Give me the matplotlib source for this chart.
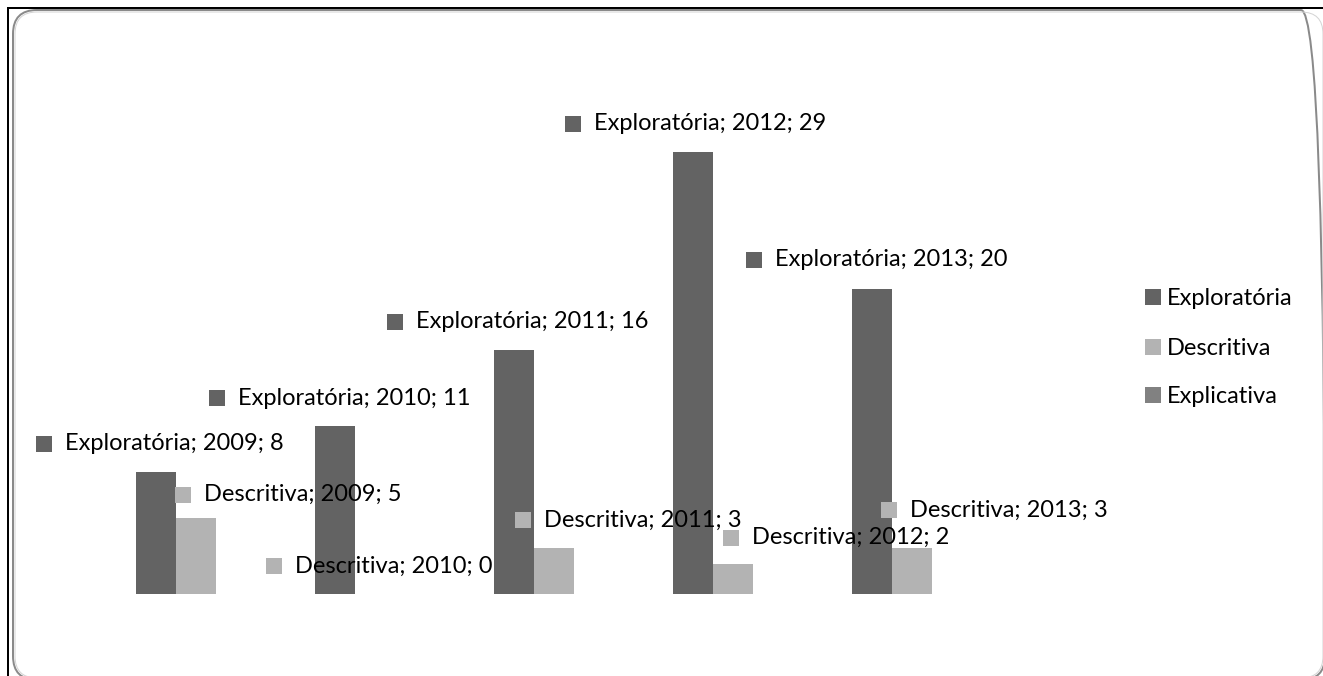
import matplotlib
matplotlib.use('Agg')
import matplotlib.pyplot as plt
import numpy as np
from matplotlib.patches import FancyBboxPatch, Rectangle
from matplotlib.lines import Line2D
from matplotlib.transforms import IdentityTransform
from matplotlib.offsetbox import AnnotationBbox, HPacker, TextArea, DrawingArea

years = ['2009', '2010', '2011', '2012', '2013']
series = ['Exploratória', 'Descritiva', 'Explicativa']
exploratoria = [8, 11, 16, 29, 20]
descritiva = [5, 0, 3, 2, 3]
explicativa = [0, 0, 0, 0, 0]

colors = ['#636363', '#b3b3b3', '#818181']

# label offsets in px (label centre relative to bar top), they were dragged by hand in the original
exp_offsets = [(4, 28), (5, 28), (4, 28), (3, 28), (5, 29)]
desc_offsets = [(92, 23), (4, 28), (74, 28), (103, 26), (82, 38)]

W, H = 1323, 676
DPI = 100
PT = 72 / DPI
FS = 17

plt.rcParams['font.family'] = ['Lato', 'DejaVu Sans']

fig = plt.figure(figsize=(W / DPI, H / DPI), dpi=DPI)

# frame: black lines left/top and the rounded grey chart border
fig.add_artist(Line2D([8 / W, 8 / W], [0, 1 - 8 / H], color='black', lw=2 * PT))
fig.add_artist(Line2D([8 / W, 1], [1 - 8 / H, 1 - 8 / H], color='black', lw=2 * PT))
fig.add_artist(FancyBboxPatch((13, -4), 1312, 670, boxstyle='round,pad=0,rounding_size=24',
                              transform=IdentityTransform(), fc='none', ec='#8a8a8a', lw=2 * PT))
fig.add_artist(FancyBboxPatch((15, -2), 1308, 666, boxstyle='round,pad=0,rounding_size=22',
                              transform=IdentityTransform(), fc='none', ec='#d4d4d4', lw=1 * PT))

ax = fig.add_axes([106.5 / W, (H - 594) / H, 895 / W, 35 * 15.25 / H])
x = np.arange(len(years))
w = 40 / 179
values = [exploratoria, descritiva, explicativa]
bars = []
for i, vals in enumerate(values):
    bars.append(ax.bar(x + (i - 1) * w, vals, w, color=colors[i], linewidth=0))
ax.set_xlim(-0.5, len(years) - 0.5)
ax.set_ylim(0, 35)
ax.axis('off')


def add_label(bar, text, color, off):
    sq = 16 * PT
    da = DrawingArea(sq, sq, 0, 0)
    da.add_artist(Rectangle((0, 0), sq, sq, fc=color, ec='none'))
    ta = TextArea(text, textprops=dict(fontsize=FS, color='black'))
    box = HPacker(children=[da, ta], align='center', pad=0, sep=13 * PT)
    xy = (bar.get_x() + bar.get_width() / 2, bar.get_height())
    ab = AnnotationBbox(box, xy, xybox=(off[0] * PT, off[1] * PT), xycoords='data',
                        boxcoords='offset points', box_alignment=(0.5, 0.5),
                        frameon=False, pad=0, annotation_clip=False)
    ax.add_artist(ab)


for j, yr in enumerate(years):
    add_label(bars[0][j], f'{series[0]}; {yr}; {exploratoria[j]}', colors[0], exp_offsets[j])
    add_label(bars[1][j], f'{series[1]}; {yr}; {descritiva[j]}', colors[1], desc_offsets[j])

# legend on the right
for name, col, yc in zip(series, colors, [297, 347, 395]):
    fig.add_artist(Rectangle((1145 / W, 1 - (yc + 8) / H), 16 / W, 16 / H,
                             transform=fig.transFigure, fc=col, ec='none'))
    fig.text(1167 / W, 1 - (yc + 8) / H, name, fontsize=FS, va='baseline', ha='left')

fig.savefig('out.png', dpi=DPI)
